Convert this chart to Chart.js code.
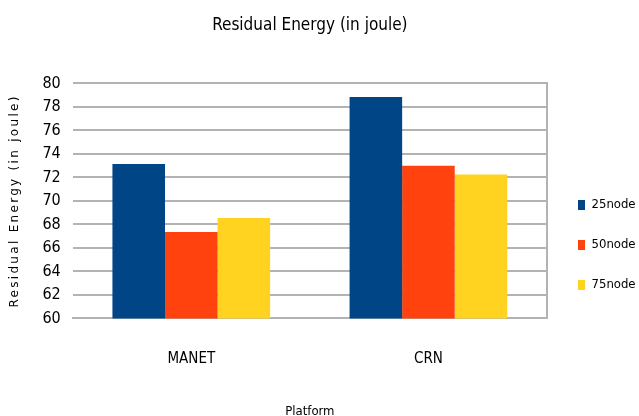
<!DOCTYPE html>
<html>
<head>
<meta charset="utf-8">
<script src="https://cdn.jsdelivr.net/npm/chart.js@4"></script>
<style>
  html, body { margin: 0; padding: 0; background: #fff; }
  #wrap { width: 639px; height: 416px; }
</style>
</head>
<body>
<div id="wrap"><canvas id="barChart" width="639" height="416"></canvas></div>
<script>
var platforms = ['MANET', 'CRN'];
var node25 = [73.15, 78.85];
var node50 = [67.35, 73.0];
var node75 = [68.55, 72.25];
var seriesNames = ['25node', '50node', '75node'];

var narrow = '"DejaVu Sans Condensed", "Liberation Sans Narrow", sans-serif';

// legend takes a fixed strip on the right and sits a bit low, y-title gets spaced letters
var tweaks = {
    id: 'tweaks',
    beforeInit: function(chart) {
        var fit = chart.legend.fit;
        chart.legend.fit = function() {
            fit.call(this);
            this.width = 84;
        };
    },
    afterLayout: function(chart) {
        var lg = chart.legend;
        lg.top += 34;
        lg.bottom += 34;
        lg.left -= 4;
        lg.right -= 4;
        var s = chart.scales.y;
        if (!s._spaced) {
            var orig = s.drawTitle;
            s.drawTitle = function() {
                var c = this.ctx;
                c.save();
                c.letterSpacing = '2.3px';
                orig.apply(this, arguments);
                c.restore();
            };
            s._spaced = true;
        }
    }
};

window.onload = function() {
    var ctx = document.getElementById('barChart').getContext('2d');

    var myChart = new Chart(ctx, {
        type: 'bar',
        data: {
            labels: platforms,
            datasets: [
                { label: seriesNames[0], data: node25, backgroundColor: '#004586' },
                { label: seriesNames[1], data: node50, backgroundColor: '#ff420e' },
                { label: seriesNames[2], data: node75, backgroundColor: '#ffd320' }
            ]
        },
        plugins: [tweaks],
        options: {
            responsive: false,
            animation: false,
            layout: { padding: { left: 8, right: 0, top: 6, bottom: 0 } },
            datasets: {
                bar: { barPercentage: 1, categoryPercentage: 0.665 }
            },
            plugins: {
                title: {
                    display: true,
                    text: 'Residual Energy (in joule)',
                    color: '#000',
                    font: { family: narrow, size: 17, weight: 'normal' },
                    fullSize: false,
                    padding: { top: 9, bottom: 48 }
                },
                legend: {
                    position: 'right',
                    labels: {
                        color: '#000',
                        font: { family: narrow, size: 13 },
                        boxWidth: 7,
                        boxHeight: 10,
                        padding: 27
                    }
                },
                tooltip: { enabled: false }
            },
            scales: {
                x: {
                    grid: { display: false },
                    border: { display: true, color: '#b3b3b3', width: 2 },
                    ticks: { color: '#000', font: { family: narrow, size: 15 }, padding: 24 },
                    title: {
                        display: true,
                        text: 'Platform',
                        color: '#000',
                        font: { family: narrow, size: 13 },
                        padding: { top: 11, bottom: -3 }
                    }
                },
                y: {
                    min: 60,
                    max: 80,
                    ticks: { stepSize: 2, color: '#000', font: { family: narrow, size: 16 }, padding: 12 },
                    grid: { color: '#b3b3b3', lineWidth: 2, drawTicks: false },
                    border: { display: false },
                    title: {
                        display: true,
                        text: 'Residual Energy (in joule)',
                        color: '#000',
                        font: { family: '"DejaVu Sans", sans-serif', size: 12 },
                        padding: { top: 0, bottom: 8 }
                    }
                },
                y2: {
                    position: 'right',
                    min: 60,
                    max: 80,
                    ticks: { display: false },
                    grid: { display: false },
                    border: { display: true, color: '#b3b3b3', width: 2 }
                }
            }
        }
    });
};
</script>
</body>
</html>
